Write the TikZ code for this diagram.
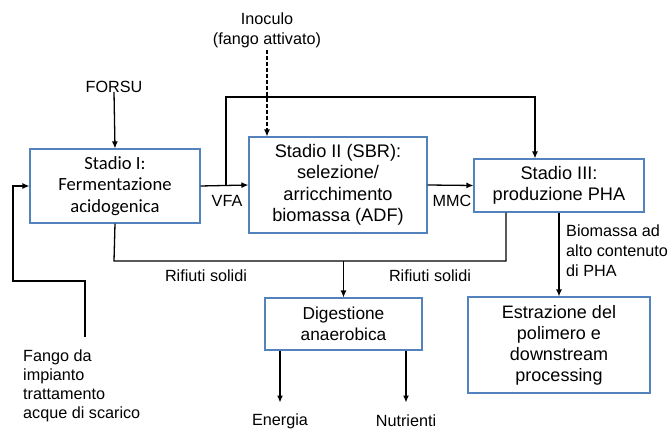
\documentclass[tikz,border=0pt]{standalone}
\usepackage{fontspec}
\setmainfont{Liberation Sans}
\newfontfamily\calibri{Carlito}
\usepackage{xcolor}
\usetikzlibrary{arrows.meta,calc}
\definecolor{boxblue}{HTML}{5283BC}

\begin{document}
\begin{tikzpicture}[x=1pt,y=-1pt,
	stadio/.style={draw=boxblue,line width=1.1pt,align=center,inner sep=0pt,font=\fontsize{18.2}{21.5}\selectfont},
	lab/.style={inner sep=2pt,font=\fontsize{16.2}{20}\selectfont},
	arr/.style={line width=1.3pt,-{Latex[length=7pt,width=6pt]}},
	lin/.style={line width=1.3pt}]
	\useasboundingbox (0,0) rectangle (672,430);
	\node[stadio,minimum width=170,minimum height=74,font=\calibri\fontsize{18.6}{21.5}\selectfont](s1) at (115,186){Stadio I:\\Fermentazione\\acidogenica};
	\node[stadio,minimum width=178,minimum height=96](s2) at (338,185){Stadio II (SBR):\\selezione/\\arricchimento\\biomassa (ADF)};
	\node[stadio,minimum width=170,minimum height=53](s3) at (559,185.5){Stadio III:\\produzione PHA};
	\node[stadio,minimum width=157,minimum height=52,font=\fontsize{17.3}{21}\selectfont](dig) at (343.5,324){Digestione\\anaerobica};
	\node[stadio,minimum width=182,minimum height=96,font=\fontsize{18}{21}\selectfont](est) at (559,345){Estrazione del\\polimero e\\downstream\\processing};
	\node[lab](forsu) at (114,87){FORSU};
	\node[lab,align=center](inoc) at (267,30){Inoculo\\(fango attivato)};
	\node[lab](vfa) at (227,201){VFA};
	\node[lab](mmc) at (452,201){MMC};
	\node[lab](rif1) at (206,276){Rifiuti solidi};
	\node[lab](rif2) at (430,276){Rifiuti solidi};
	\node[lab,align=left,anchor=north west](bio) at (564,223){Biomassa ad\\alto contenuto\\di PHA};
	\node[lab,align=left,anchor=north west,font=\fontsize{16.2}{18.7}\selectfont](fango) at (21,348){Fango da\\impianto\\trattamento\\acque di scarico};
	\node[lab](en) at (280,421){Energia};
	\node[lab](nut) at (406,421){Nutrienti};
	\coordinate (loop) at (226,97);
	\coordinate (rif) at (114,261);
	\coordinate (fg) at (85,337);
	\draw[arr]([yshift=3]forsu.south)--(s1.north);
	\draw[arr,dash pattern=on 4pt off 2pt](inoc.south)--(inoc |- s2.north);
	\draw[arr](s1.east)--(s2.west);
	\draw[arr](loop |- s1.east)--(loop)-|([xshift=-24]s3.north);
	\draw[arr](s2.east)--(s3.west);
	\draw[lin](s1.south)--(rif)-|([xshift=-53]s3.south);
	\draw[arr](dig.north |- rif)--(dig.north);
	\draw[arr](fg)|-(13,281)|-(s1.west);
	\draw[arr](en |- dig.south)--++(0,52);
	\draw[arr](nut |- dig.south)--++(0,52);
	\draw[arr](s3.south)--(est.north);
\end{tikzpicture}
\end{document}
